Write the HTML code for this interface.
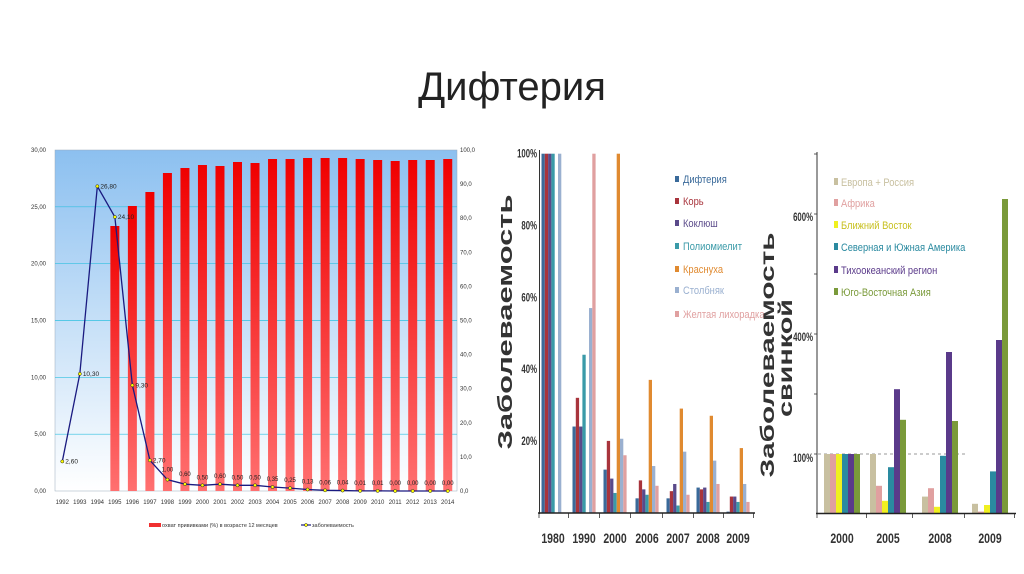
<!DOCTYPE html>
<html><head><meta charset="utf-8">
<style>
html,body{margin:0;padding:0;background:#fff;}
svg{display:block;}
text{font-family:"Liberation Sans","DejaVu Sans",sans-serif;}
</style></head>
<body>
<svg id="s" xmlns="http://www.w3.org/2000/svg" width="1024" height="574" viewBox="0 0 1024 574">
<defs>
<linearGradient id="bg" x1="0" y1="0" x2="0" y2="1">
<stop offset="0" stop-color="#8cc0f0"/><stop offset="1" stop-color="#ffffff"/>
</linearGradient>
<linearGradient id="rb" x1="0" y1="0" x2="0" y2="1">
<stop offset="0" stop-color="#f00000"/><stop offset="1" stop-color="#ff7070"/>
</linearGradient>
</defs>
<text x="512" y="100" text-anchor="middle" font-size="40" fill="#222">Дифтерия</text>
<rect x="55" y="150" width="402" height="341" fill="url(#bg)" stroke="#9ab" stroke-width="0.5"/>
<g id="left"></g>
<g id="mid"></g>
<g id="right"></g>
</svg>
<script>
var NS="http://www.w3.org/2000/svg";
function el(p,t,a,txt){var e=document.createElementNS(NS,t);for(var k in a)e.setAttribute(k,a[k]);if(txt!==undefined)e.textContent=txt;document.getElementById(p).appendChild(e);return e;}
// LEFT
var L='left';
for(var i=0;i<=6;i++){var y=491-i*341/6;
 if(i>0&&i<6)el(L,'line',{x1:55,x2:457,y1:y,y2:y,stroke:'#30c0e0','stroke-width':0.7});
 el(L,'text',{x:46,y:y+2,'font-size':6,'text-anchor':'end',fill:'#333'},(i*5).toFixed(2).replace('.',','));}
for(var i=0;i<=10;i++){var y=491-i*34.1;el(L,'text',{x:460,y:y+2,'font-size':6,fill:'#333'},(i*10).toFixed(1).replace('.',','));}
var tops=[0,0,0,226,206,192,173,168,165,166,162,163,159,159,158,158,158,159,160,161,160,160,159];
var vals=[2.6,10.3,26.8,24.1,9.3,2.7,1.0,0.6,0.5,0.6,0.5,0.5,0.35,0.25,0.13,0.06,0.04,0.01,0.01,0,0,0,0];
var pts=[];
for(var i=0;i<23;i++){var c=62.3+i*17.52;
 if(tops[i])el(L,'rect',{x:c-4.5,y:tops[i],width:9,height:491-tops[i],fill:'url(#rb)'});
 el(L,'text',{x:c,y:504,'font-size':6,'text-anchor':'middle',fill:'#333'},1992+i);
 pts.push([c,491-vals[i]*11.37]);}
el(L,'polyline',{points:pts.map(function(p){return p.join(',')}).join(' '),fill:'none',stroke:'#1a1a80','stroke-width':1.3});
for(var i=0;i<23;i++){var p=pts[i];el(L,'circle',{cx:p[0],cy:p[1],r:1.6,fill:'#ff0',stroke:'#222','stroke-width':0.5});
 var lab=vals[i].toFixed(2).replace('.',',');
 if(i<6)el(L,'text',{x:p[0]+3,y:p[1]+2,'font-size':6.5,fill:'#222'},lab);
 else el(L,'text',{x:p[0],y:p[1]-6-(i<8?2:0),'font-size':6,'text-anchor':'middle',fill:'#222'},lab);}
el(L,'rect',{x:149,y:523,width:12,height:4,fill:'#f03030'});
el(L,'text',{x:162,y:527,'font-size':5.5,fill:'#333'},'охват прививками (%) в возрасте 12 месяцев');
el(L,'line',{x1:301,x2:311,y1:525,y2:525,stroke:'#1a1a80','stroke-width':1.2});
el(L,'circle',{cx:306,cy:525,r:1.5,fill:'#ff0',stroke:'#222','stroke-width':0.5});
el(L,'text',{x:312,y:527,'font-size':5.5,fill:'#333'},'заболеваемость');
// MIDDLE
var M='mid';
var mc=['#3a6a9a','#a8343c','#5a4a8a','#3a9aa8','#e08a30','#9ab0d0','#e0a0a0'];
var mn=['Дифтерия','Корь','Коклюш','Полиомиелит','Краснуха','Столбняк','Желтая лихорадка'];
var md=[[100,100,100,100,0,100,0],[24,32,24,44,0,57,100],[12,20,9.5,5.5,100,20.6,16],[4,9,6.5,5,37,13,7.5],[4,6,8,2,29,17,5],[7,6.5,7,3,27,14.5,8],[0.3,4.5,4.5,3,18,8,3]];
var my=['1980','1990','2000','2006','2007','2008','2009'];
var mx=[553,584,615,647,678,708,738];
for(var g=0;g<7;g++){for(var k=0;k<7;k++){var h=md[g][k]*3.59;if(h>0)el(M,'rect',{x:mx[g]-11.5+k*3.3,y:512.7-h,width:3.3,height:h,fill:mc[k]});}
 el(M,'text',{x:mx[g],y:543,'font-size':14,'font-weight':'bold','text-anchor':'middle',fill:'#333',transform:'translate('+mx[g]+',543) scale(0.75,1) translate('+(-mx[g])+',-543)'},my[g]);
 el(M,'line',{x1:mx[g]+15.5,x2:mx[g]+15.5,y1:513,y2:518,stroke:'#333','stroke-width':0.8});}
el(M,'line',{x1:539.5,x2:539.5,y1:150,y2:514,stroke:'#333','stroke-width':1});
el(M,'line',{x1:538,x2:755,y1:513,y2:513,stroke:'#222','stroke-width':1.5});
el(M,'line',{x1:539,x2:539,y1:513,y2:518,stroke:'#333','stroke-width':0.8});
for(var i=1;i<=5;i++){var y=512.7-i*20*3.59;el(M,'text',{x:537,y:y+4,'font-size':12,'font-weight':'bold','text-anchor':'end',fill:'#333',transform:'translate(537,'+(y+4)+') scale(0.65,1) translate(-537,'+(-(y+4))+')'},(i*20)+'%');}
el(M,'text',{x:0,y:0,'font-size':20,'font-weight':'bold',fill:'#333','text-anchor':'middle',textLength:255,lengthAdjust:'spacingAndGlyphs',transform:'translate(512,322) rotate(-90)'},'Заболеваемость');
var ly=[183,205,227,250,273,294,318];
for(var k=0;k<7;k++){el(M,'rect',{x:675,y:ly[k]-7,width:4,height:6,fill:mc[k]});
 el(M,'text',{x:683,y:ly[k],'font-size':11,fill:mc[k],transform:'translate(683,'+ly[k]+') scale(0.85,1) translate(-683,'+(-ly[k])+')'},mn[k]);}
// RIGHT
var R='right';
var rc=['#c8c0a0','#e0a0a0','#f0f020','#2a8aa0','#5a3a8a','#7a9a3a'];
var rn=['Европа + Россия','Африка','Ближний Восток','Северная и Южная Америка','Тихоокеанский регион','Юго-Восточная Азия'];
var rd=[[100,100,100,100,100,100],[100,47,22,78,208,157],[29,43,12,97,270,155],[17,4,15,71,290,525]];
var ry=['2000','2005','2008','2009'];var rx=[842,888,940,990];
el(R,'line',{x1:818,x2:968,y1:454,y2:454,stroke:'#999','stroke-width':1,'stroke-dasharray':'3,3'});
for(var g=0;g<4;g++){for(var k=0;k<6;k++){var h=rd[g][k]*0.6;el(R,'rect',{x:rx[g]-18+k*6,y:514-h,width:6,height:h,fill:rc[k]});}
 el(R,'text',{x:rx[g],y:543,'font-size':14,'font-weight':'bold','text-anchor':'middle',fill:'#333',transform:'translate('+rx[g]+',543) scale(0.75,1) translate('+(-rx[g])+',-543)'},ry[g]);
 el(R,'line',{x1:rx[g]+24.5,x2:rx[g]+24.5,y1:513,y2:518,stroke:'#333','stroke-width':0.8});}
el(R,'line',{x1:817,x2:817,y1:152,y2:514,stroke:'#333','stroke-width':1});
el(R,'line',{x1:816,x2:1016,y1:513.5,y2:513.5,stroke:'#222','stroke-width':1.5});
el(R,'line',{x1:817,x2:817,y1:513,y2:518,stroke:'#333','stroke-width':0.8});
for(var i=1;i<=6;i++){var y=514-i*60;el(R,'line',{x1:814,x2:817,y1:y,y2:y,stroke:'#333','stroke-width':0.8});}
[[100,458],[400,337],[600,217]].forEach(function(a){el(R,'text',{x:813,y:a[1]+4,'font-size':12,'font-weight':'bold','text-anchor':'end',fill:'#333',transform:'translate(813,'+(a[1]+4)+') scale(0.65,1) translate(-813,'+(-(a[1]+4))+')'},a[0]+'%');});
el(R,'text',{x:0,y:0,'font-size':19,'font-weight':'bold',fill:'#333','text-anchor':'middle',textLength:245,lengthAdjust:'spacingAndGlyphs',transform:'translate(774,355) rotate(-90)'},'Заболеваемость');
el(R,'text',{x:0,y:0,'font-size':19,'font-weight':'bold',fill:'#333','text-anchor':'middle',textLength:118,lengthAdjust:'spacingAndGlyphs',transform:'translate(792,358) rotate(-90)'},'свинкой');
var rly=[186,207,229,251,274,296];
for(var k=0;k<6;k++){el(R,'rect',{x:834,y:rly[k]-8,width:4,height:7,fill:rc[k]});
 el(R,'text',{x:841,y:rly[k],'font-size':11,fill:rc[k]==='#f0f020'?'#c8c020':rc[k],transform:'translate(841,'+rly[k]+') scale(0.85,1) translate(-841,'+(-rly[k])+')'},rn[k]);}
</script>
</body></html>
